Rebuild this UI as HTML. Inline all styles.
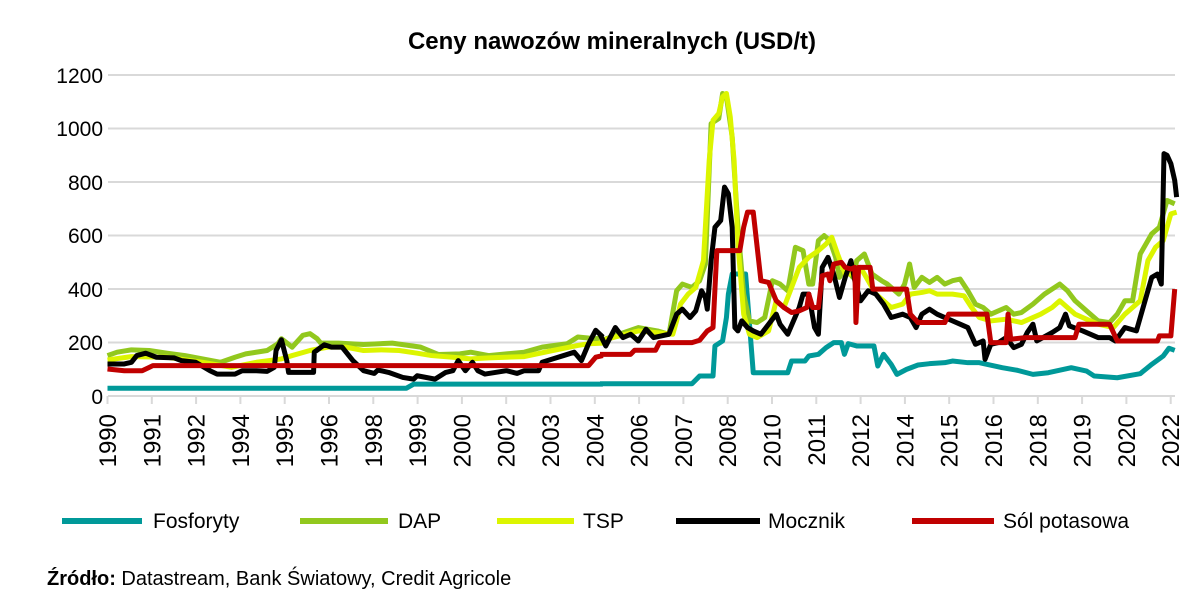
<!DOCTYPE html>
<html><head><meta charset="utf-8"><style>
body{margin:0;background:#fff;}
svg{display:block;font-family:"Liberation Sans",sans-serif;}
</style></head><body>
<svg width="1203" height="614" viewBox="0 0 1203 614">
<text x="612" y="49" text-anchor="middle" font-size="24" font-weight="bold">Ceny nawozów mineralnych (USD/t)</text>
<g stroke="#d9d9d9" stroke-width="2">
<line x1="108" x2="1175" y1="75" y2="75"/><line x1="108" x2="1175" y1="128.5" y2="128.5"/>
<line x1="108" x2="1175" y1="182" y2="182"/><line x1="108" x2="1175" y1="235.5" y2="235.5"/>
<line x1="108" x2="1175" y1="289" y2="289"/><line x1="108" x2="1175" y1="342.5" y2="342.5"/>
<line x1="108" x2="1175" y1="396" y2="396"/>
</g>
<g font-size="21" text-anchor="end" fill="#000">
<text x="103" y="83">1200</text><text x="103" y="136">1000</text><text x="103" y="190">800</text>
<text x="103" y="243">600</text><text x="103" y="297">400</text><text x="103" y="350">200</text><text x="103" y="404">0</text>
</g>
<g stroke="#d9d9d9" stroke-width="2">
<line x1="107.5" x2="107.5" y1="396" y2="404"/><line x1="151.8" x2="151.8" y1="396" y2="404"/><line x1="196.1" x2="196.1" y1="396" y2="404"/><line x1="240.4" x2="240.4" y1="396" y2="404"/><line x1="284.7" x2="284.7" y1="396" y2="404"/><line x1="329" x2="329" y1="396" y2="404"/><line x1="373.3" x2="373.3" y1="396" y2="404"/><line x1="417.6" x2="417.6" y1="396" y2="404"/><line x1="461.9" x2="461.9" y1="396" y2="404"/><line x1="506.2" x2="506.2" y1="396" y2="404"/><line x1="550.5" x2="550.5" y1="396" y2="404"/><line x1="594.8" x2="594.8" y1="396" y2="404"/><line x1="639.1" x2="639.1" y1="396" y2="404"/><line x1="683.4" x2="683.4" y1="396" y2="404"/><line x1="727.7" x2="727.7" y1="396" y2="404"/><line x1="772" x2="772" y1="396" y2="404"/><line x1="816.3" x2="816.3" y1="396" y2="404"/><line x1="860.6" x2="860.6" y1="396" y2="404"/><line x1="904.9" x2="904.9" y1="396" y2="404"/><line x1="949.2" x2="949.2" y1="396" y2="404"/><line x1="993.5" x2="993.5" y1="396" y2="404"/><line x1="1037.8" x2="1037.8" y1="396" y2="404"/><line x1="1082.1" x2="1082.1" y1="396" y2="404"/><line x1="1126.4" x2="1126.4" y1="396" y2="404"/><line x1="1170.7" x2="1170.7" y1="396" y2="404"/>
</g>
<g font-size="24" text-anchor="end">
<text transform="translate(116,414) rotate(-90)">1990</text>
<text transform="translate(160.3,414) rotate(-90)">1991</text>
<text transform="translate(204.6,414) rotate(-90)">1992</text>
<text transform="translate(248.9,414) rotate(-90)">1994</text>
<text transform="translate(293.2,414) rotate(-90)">1995</text>
<text transform="translate(337.5,414) rotate(-90)">1996</text>
<text transform="translate(381.8,414) rotate(-90)">1998</text>
<text transform="translate(426.1,414) rotate(-90)">1999</text>
<text transform="translate(470.4,414) rotate(-90)">2000</text>
<text transform="translate(514.7,414) rotate(-90)">2002</text>
<text transform="translate(559,414) rotate(-90)">2003</text>
<text transform="translate(603.3,414) rotate(-90)">2004</text>
<text transform="translate(647.6,414) rotate(-90)">2006</text>
<text transform="translate(691.9,414) rotate(-90)">2007</text>
<text transform="translate(736.2,414) rotate(-90)">2008</text>
<text transform="translate(780.5,414) rotate(-90)">2010</text>
<text transform="translate(824.8,414) rotate(-90)">2011</text>
<text transform="translate(869.1,414) rotate(-90)">2012</text>
<text transform="translate(913.4,414) rotate(-90)">2014</text>
<text transform="translate(957.7,414) rotate(-90)">2015</text>
<text transform="translate(1002,414) rotate(-90)">2016</text>
<text transform="translate(1046.3,414) rotate(-90)">2018</text>
<text transform="translate(1090.6,414) rotate(-90)">2019</text>
<text transform="translate(1134.9,414) rotate(-90)">2020</text>
<text transform="translate(1179.2,414) rotate(-90)">2022</text>
</g>
<!-- left segment -->
<g transform="translate(60,300) scale(0.35714,0.3367)" fill="none" stroke-linejoin="round" stroke-width="5">
<polyline vector-effect="non-scaling-stroke" stroke="#009999" points="133,262 970,262 990,250 1520,250"/>
<polyline vector-effect="non-scaling-stroke" stroke="#92c81e" points="133,165 160,155 200,148 250,150 300,158 350,165 400,175 450,185 490,170 520,160 580,150 610,130 620,115 650,140 680,105 700,100 720,115 730,128 780,128 850,132 930,128 1010,140 1060,162 1120,160 1150,155 1200,165 1250,160 1300,155 1350,140 1420,130 1450,110 1500,115 1520,112"/>
<polyline vector-effect="non-scaling-stroke" stroke="#dcf500" points="133,178 200,168 300,170 400,185 480,200 550,185 620,175 650,165 700,150 750,140 800,140 850,150 900,148 950,150 1000,158 1040,165 1100,170 1150,175 1200,172 1300,168 1380,150 1450,135 1480,130 1520,128"/>
<polyline vector-effect="non-scaling-stroke" stroke="#000" points="133,190 180,190 200,185 215,165 240,158 270,170 320,172 340,180 380,185 420,210 440,220 490,220 510,210 550,210 580,212 600,200 605,150 620,118 635,180 640,215 710,215 712,155 740,133 760,140 790,140 820,180 850,210 880,218 890,208 920,215 960,230 990,235 1000,225 1050,235 1080,215 1100,210 1115,180 1135,210 1155,185 1170,210 1190,220 1250,210 1280,218 1300,210 1340,210 1350,185 1380,175 1410,165 1440,155 1460,180 1480,130 1500,90 1520,110"/>
<polyline vector-effect="non-scaling-stroke" stroke="#c00000" points="133,205 180,210 230,210 250,200 260,195 1480,195 1500,170 1520,165"/>
</g>
<!-- right segment -->
<g transform="translate(600,60) scale(0.38314,0.33445)" fill="none" stroke-linejoin="round" stroke-width="5">
<polyline vector-effect="non-scaling-stroke" stroke="#009999" points="0,968 240,968 260,945 295,945 300,855 320,840 330,770 335,700 345,640 380,640 400,935 490,935 500,900 535,900 545,885 570,880 590,860 610,845 630,845 638,880 648,848 670,855 715,855 725,915 740,880 760,910 775,940 800,925 830,912 860,908 900,905 920,900 960,905 990,905 1050,920 1090,928 1130,940 1170,935 1230,920 1270,930 1290,945 1350,950 1410,938 1440,910 1470,885 1485,862 1500,868"/>
<polyline vector-effect="non-scaling-stroke" stroke="#92c81e" points="0,840 50,820 100,800 150,810 180,820 200,690 215,670 240,680 260,660 275,610 290,190 310,175 320,100 330,110 345,230 360,500 375,700 390,780 410,785 430,770 450,660 470,670 490,690 510,560 530,570 545,670 555,670 570,540 585,525 600,540 615,590 625,650 640,620 660,650 670,600 690,580 710,640 735,660 750,670 780,700 795,670 808,610 820,680 840,650 860,665 880,650 900,670 920,660 940,655 960,690 980,730 1000,740 1020,760 1060,740 1080,760 1100,755 1130,730 1160,700 1200,670 1220,690 1240,720 1270,750 1300,780 1330,785 1350,760 1370,720 1390,720 1410,580 1440,520 1460,500 1480,420 1500,430"/>
<polyline vector-effect="non-scaling-stroke" stroke="#dcf500" points="0,840 100,810 190,820 200,780 210,730 230,700 250,680 270,600 285,300 295,180 310,160 320,110 330,100 340,170 350,300 360,550 375,760 390,820 410,830 440,810 460,720 480,740 500,680 520,620 545,590 570,570 590,550 605,530 620,580 640,640 660,640 680,620 700,660 720,700 740,720 760,740 790,730 810,700 840,695 860,690 880,700 920,700 950,705 970,740 990,770 1020,780 1060,775 1100,785 1150,760 1180,740 1200,720 1220,740 1240,760 1260,770 1300,790 1340,800 1370,760 1390,740 1410,720 1430,600 1450,560 1470,540 1490,460 1505,455"/>
<polyline vector-effect="non-scaling-stroke" stroke="#000" points="0,820 15,855 40,800 60,830 80,820 100,840 120,805 140,830 160,825 180,820 200,760 215,745 235,770 250,750 265,690 275,710 280,745 290,600 300,500 315,480 325,380 335,400 345,500 352,800 360,810 370,780 385,800 400,810 420,820 440,790 460,760 470,790 490,820 505,780 520,740 530,700 545,700 560,800 570,820 580,620 595,590 610,640 625,710 640,650 655,600 665,660 680,720 700,690 720,700 740,730 760,770 790,760 810,770 825,800 840,760 860,745 880,760 900,770 920,780 940,790 960,800 980,850 1000,840 1005,895 1020,850 1040,845 1060,830 1080,860 1100,850 1115,815 1130,790 1140,840 1180,815 1200,800 1215,760 1225,795 1260,810 1300,830 1330,830 1345,840 1370,800 1400,810 1420,730 1440,650 1455,640 1465,670 1472,280 1480,285 1490,310 1500,360 1505,410"/>
<polyline vector-effect="non-scaling-stroke" stroke="#c00000" points="0,880 80,880 90,868 145,868 155,845 240,845 260,838 280,810 295,800 305,570 365,570 375,500 385,455 400,455 420,660 440,665 460,720 480,740 500,755 520,750 540,740 545,700 555,740 570,740 580,645 595,640 600,660 610,610 630,605 640,620 655,625 665,620 668,785 675,620 705,620 712,685 800,685 810,760 830,785 900,785 910,760 1010,760 1020,845 1060,845 1065,760 1072,835 1110,830 1240,830 1250,790 1330,790 1350,840 1455,840 1460,825 1490,825 1500,685"/>
</g>
<g stroke-width="6">
<line x1="62" x2="142" y1="521" y2="521" stroke="#009999"/>
<line x1="300" x2="388" y1="521" y2="521" stroke="#92c81e"/>
<line x1="497" x2="574" y1="521" y2="521" stroke="#dcf500"/>
<line x1="676" x2="760" y1="521" y2="521" stroke="#000"/>
<line x1="912" x2="994" y1="521" y2="521" stroke="#c00000"/>
</g>
<g font-size="21">
<text x="153" y="528">Fosforyty</text><text x="398" y="528">DAP</text><text x="583" y="528">TSP</text>
<text x="768" y="528">Mocznik</text><text x="1003" y="528">Sól potasowa</text>
</g>
<text x="47" y="585" font-size="20"><tspan font-weight="bold">Źródło:</tspan> Datastream, Bank Światowy, Credit Agricole</text>
</svg>
</body></html>
